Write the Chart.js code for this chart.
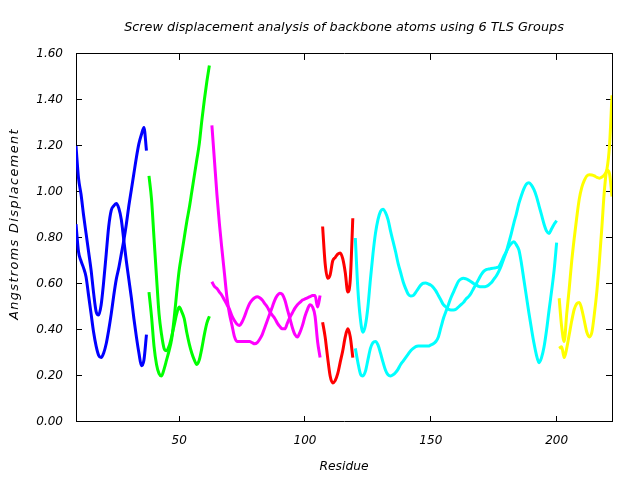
<!DOCTYPE html>
<html>
<head>
<meta charset="utf-8">
<script src="https://cdn.jsdelivr.net/npm/chart.js@4/dist/chart.umd.min.js"></script>
<style>
  html, body { margin: 0; padding: 0; background: #ffffff; }
</style>
</head>
<body>
<canvas id="c" width="640" height="480"></canvas>
<script>
// ---- Data ----
const titleText = "Screw displacement analysis of backbone atoms using 6 TLS Groups";
const xTitle = "Residue";
const yTitle = "Angstroms Displacement";
const xTickValues = [50, 100, 150, 200];
const yTickValues = [0, 0.2, 0.4, 0.6, 0.8, 1.0, 1.2, 1.4, 1.6];

const groupStart = [9, 38, 63, 107, 120, 201];
const groupColors = ["#0000ff", "#00ff00", "#ff00ff", "#ff0000", "#00ffff", "#ffff00"];

// Group 1 (blue), residues 9..37
const blueA = [1.20, 1.06, 0.99, 0.90, 0.82, 0.74, 0.66, 0.56, 0.48, 0.465, 0.51, 0.61, 0.73, 0.85, 0.92, 0.94, 0.95, 0.93, 0.88, 0.79, 0.70, 0.62, 0.54, 0.45, 0.37, 0.30, 0.245, 0.27, 0.38];
const blueB = [0.86, 0.74, 0.70, 0.67, 0.63, 0.55, 0.47, 0.39, 0.33, 0.29, 0.28, 0.30, 0.34, 0.40, 0.47, 0.55, 0.62, 0.67, 0.73, 0.79, 0.86, 0.94, 1.01, 1.08, 1.15, 1.21, 1.25, 1.28, 1.18];
// Group 2 (green), residues 38..62
const greenA = [1.07, 0.97, 0.80, 0.63, 0.47, 0.38, 0.32, 0.31, 0.33, 0.37, 0.42, 0.47, 0.50, 0.48, 0.45, 0.39, 0.34, 0.30, 0.27, 0.25, 0.27, 0.32, 0.38, 0.43, 0.46];
const greenB = [0.565, 0.46, 0.33, 0.25, 0.21, 0.20, 0.23, 0.27, 0.31, 0.36, 0.45, 0.56, 0.66, 0.73, 0.80, 0.87, 0.93, 1.00, 1.07, 1.14, 1.21, 1.31, 1.40, 1.48, 1.55];
// Group 3 (magenta), residues 63..106
const magentaA = [1.29, 1.14, 0.99, 0.86, 0.75, 0.645, 0.54, 0.47, 0.42, 0.37,
                  0.35, 0.35, 0.35, 0.35, 0.35, 0.35, 0.345, 0.34, 0.345, 0.36,
                  0.38, 0.41, 0.44, 0.47, 0.50, 0.53, 0.55, 0.56, 0.555, 0.53,
                  0.49, 0.45, 0.41, 0.38, 0.37, 0.39, 0.42, 0.46, 0.49, 0.51,
                  0.50, 0.46, 0.35, 0.28];
const magentaB = [0.61, 0.59, 0.58, 0.565, 0.55, 0.53, 0.51, 0.49, 0.46, 0.44,
                  0.425, 0.42, 0.435, 0.46, 0.49, 0.515, 0.53, 0.54, 0.545, 0.54,
                  0.53, 0.515, 0.50, 0.48, 0.465, 0.45, 0.43, 0.415, 0.405, 0.405,
                  0.43, 0.455, 0.475, 0.495, 0.51, 0.52, 0.53, 0.535, 0.54, 0.545,
                  0.55, 0.55, 0.50, 0.55];
// Group 4 (red), residues 107..119
const redA = [0.85, 0.69, 0.625, 0.64, 0.70, 0.715, 0.73, 0.735, 0.71, 0.65, 0.565, 0.62, 0.886];
const redB = [0.434, 0.37, 0.28, 0.20, 0.17, 0.18, 0.21, 0.26, 0.31, 0.37, 0.405, 0.37, 0.28];
// Group 5 (cyan), residues 120..200
const cyanA = [0.80, 0.58, 0.45, 0.39, 0.42, 0.50, 0.62, 0.73, 0.82, 0.88,
               0.915, 0.925, 0.91, 0.88, 0.83, 0.785, 0.74, 0.69, 0.65, 0.61,
               0.58, 0.556, 0.548, 0.55, 0.564, 0.58, 0.595, 0.603, 0.604, 0.60,
               0.595, 0.585, 0.57, 0.55, 0.53, 0.51, 0.50, 0.49, 0.487, 0.487,
               0.49, 0.50, 0.51, 0.52, 0.535, 0.545, 0.56, 0.58, 0.60, 0.62,
               0.64, 0.655, 0.662, 0.665, 0.667, 0.669, 0.671, 0.675, 0.695, 0.72,
               0.74, 0.762, 0.776, 0.784, 0.77, 0.748, 0.69, 0.617, 0.545, 0.473,
               0.405, 0.342, 0.29, 0.258, 0.28, 0.327, 0.40, 0.487, 0.57, 0.66,
               0.78];
const cyanB = [0.32, 0.26, 0.21, 0.20, 0.22, 0.27, 0.32, 0.345, 0.35, 0.335,
               0.30, 0.26, 0.225, 0.205, 0.20, 0.205, 0.215, 0.23, 0.25, 0.265,
               0.28, 0.295, 0.31, 0.32, 0.328, 0.33, 0.33, 0.33, 0.33, 0.33,
               0.335, 0.34, 0.35, 0.37, 0.41, 0.45, 0.48, 0.51, 0.54, 0.565,
               0.59, 0.612, 0.622, 0.625, 0.622, 0.617, 0.61, 0.602, 0.596, 0.59,
               0.588, 0.588, 0.59, 0.596, 0.605, 0.62, 0.635, 0.655, 0.68, 0.71,
               0.74, 0.78, 0.82, 0.865, 0.905, 0.95, 0.985, 1.015, 1.035, 1.04,
               1.03, 1.01, 0.98, 0.94, 0.90, 0.86, 0.83, 0.82, 0.84, 0.86,
               0.875];
// Group 6 (yellow), residues 201..222
const yellowA = [0.538, 0.414, 0.35, 0.47, 0.58, 0.70, 0.80, 0.89, 0.97, 1.02, 1.05, 1.07, 1.075, 1.074, 1.07, 1.063, 1.06, 1.065, 1.075, 1.10, 1.20, 1.42];
const yellowB = [0.32, 0.327, 0.28, 0.32, 0.38, 0.44, 0.49, 0.515, 0.52, 0.49, 0.44, 0.39, 0.37, 0.39, 0.47, 0.57, 0.70, 0.85, 1.01, 1.095, 1.08, 0.98];

const groupSeries = [
  [blueA, blueB], [greenA, greenB], [magentaA, magentaB],
  [redA, redB], [cyanA, cyanB], [yellowA, yellowB]
];

// ---- Build datasets ----
const datasets = [];
groupSeries.forEach((pair, g) => {
  pair.forEach((vals, k) => {
    datasets.push({
      label: "TLS group " + (g + 1) + (k === 0 ? " a" : " b"),
      data: vals.map((v, i) => ({ x: groupStart[g] + i, y: v })),
      borderColor: groupColors[g],
      backgroundColor: groupColors[g],
      borderWidth: 3,
      pointRadius: 0,
      pointHoverRadius: 0,
      fill: false,
      cubicInterpolationMode: 'monotone',
      borderJoinStyle: 'round'
    });
  });
});

const FONT = "'DejaVu Sans', sans-serif";
const TICK_IN = -6; // inward tick marks (negative tick length)

// The rotated y title in the reference is letter-spaced and sits a little above centre
const yTitlePlugin = {
  id: 'yTitleStyle',
  beforeDraw(chart) {
    const ys = chart.scales.y;
    if (ys && !ys.__wrapped) {
      const orig = ys.drawTitle.bind(ys);
      ys.drawTitle = function () {
        const c = chart.ctx;
        c.save();
        c.letterSpacing = '1.4px';
        c.translate(0, -14);
        orig();
        c.restore();
      };
      ys.__wrapped = true;
    }
  }
};

const frameGrid = {
  display: true,
  drawOnChartArea: false,
  drawTicks: true,
  tickLength: TICK_IN,
  color: '#000000',
  lineWidth: 1
};
const frameBorder = { display: true, color: '#000000', width: 1 };

new Chart(document.getElementById('c'), {
  type: 'line',
  data: { datasets },
  plugins: [yTitlePlugin],
  options: {
    responsive: false,
    animation: false,
    events: [],
    layout: { padding: { left: 0, right: 28, top: 0, bottom: 0 } },
    plugins: {
      legend: { display: false },
      tooltip: { enabled: false },
      title: {
        display: true,
        text: titleText,
        fullSize: false,
        color: '#000000',
        font: { family: FONT, size: 12.8, style: 'italic', weight: 'normal', lineHeight: 1.2 },
        padding: { top: 19.5, bottom: 19.1 }
      }
    },
    scales: {
      x: {
        type: 'linear',
        position: 'bottom',
        min: 9,
        max: 222,
        afterFit(scale) { scale.height = 58; },
        afterBuildTicks(scale) { scale.ticks = xTickValues.map(v => ({ value: v })); },
        grid: frameGrid,
        border: frameBorder,
        ticks: {
          color: '#000000',
          padding: 12 - TICK_IN,
          maxRotation: 0,
          font: { family: FONT, size: 12, style: 'italic' },
          callback: v => String(v)
        },
        title: {
          display: true,
          text: xTitle,
          color: '#000000',
          font: { family: FONT, size: 12.3, style: 'italic' },
          padding: { top: 0, bottom: 6 }
        }
      },
      x2: {
        type: 'linear',
        position: 'top',
        axis: 'x',
        min: 9,
        max: 222,
        afterFit(scale) { scale.height = 0; },
        afterBuildTicks(scale) { scale.ticks = xTickValues.map(v => ({ value: v })); },
        grid: frameGrid,
        border: frameBorder,
        ticks: { display: false }
      },
      y: {
        type: 'linear',
        position: 'left',
        min: 0,
        max: 1.6,
        afterFit(scale) { scale.width = 76; },
        afterBuildTicks(scale) { scale.ticks = yTickValues.map(v => ({ value: v })); },
        grid: frameGrid,
        border: frameBorder,
        ticks: {
          color: '#000000',
          padding: 13 - TICK_IN,
          font: { family: FONT, size: 12, style: 'italic' },
          callback: v => Number(v).toFixed(2)
        },
        title: {
          display: true,
          text: yTitle,
          color: '#000000',
          font: { family: FONT, size: 12.8, style: 'italic' },
          padding: { top: 6.5, bottom: 0 }
        }
      },
      y2: {
        type: 'linear',
        position: 'right',
        axis: 'y',
        min: 0,
        max: 1.6,
        afterFit(scale) { scale.width = 0; },
        afterBuildTicks(scale) { scale.ticks = yTickValues.map(v => ({ value: v })); },
        grid: frameGrid,
        border: frameBorder,
        ticks: { display: false }
      }
    }
  }
});
</script>
</body>
</html>
